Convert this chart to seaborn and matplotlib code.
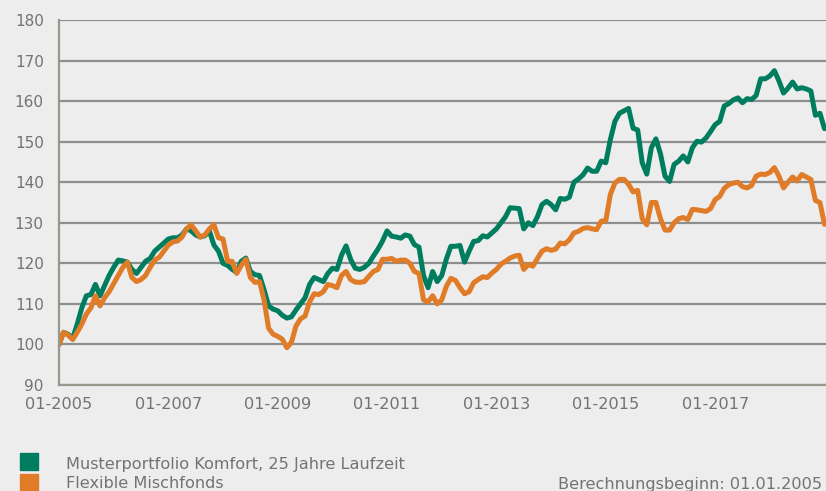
import numpy as np
import pandas as pd
import matplotlib
matplotlib.use("Agg")
import matplotlib.pyplot as plt
import seaborn as sns
from matplotlib.patches import Rectangle

# ---- data (monthly index values, 01-2005 .. 01-2019) ----
series_names = ["Musterportfolio Komfort, 25 Jahre Laufzeit", "Flexible Mischfonds"]
start_month = "2005-01"

green = [100, 103, 102.5, 101.5, 105, 109, 112, 112.3, 114.8, 112, 114.5, 117, 119, 120.8, 120.6, 120.3,
         118.5, 117.5, 119, 120.5, 121.2, 123, 124, 125, 126, 126.3, 126.3, 127, 128.5, 128, 127, 126.5,
         126.8, 128, 124.5, 123, 120, 119.5, 118.5, 117.8, 120.5, 121.3, 118, 117.2, 117, 113.5, 109.5,
         108.7, 108.3, 107.2, 106.5, 106.8, 108.5, 110, 111.5, 114.8, 116.5, 116, 115.5, 117.5, 118.8,
         118.5, 122, 124.3, 121, 118.8, 118.5, 119, 120, 121.8, 123.5, 125.5, 128, 126.7, 126.5, 126.2,
         127, 126.7, 124.6, 124, 117, 114, 118, 115.5, 117, 121, 124.2, 124.2, 124.4, 120.3, 123, 125.4,
         125.6, 126.8, 126.5, 127.5, 128.5, 130, 131.5, 133.7, 133.6, 133.5, 128.5, 130, 129.3, 131.5,
         134.5, 135.3, 134.5, 133.2, 136, 135.8, 136.3, 140, 140.8, 141.8, 143.5, 142.7, 142.7, 145.2,
         144.8, 150.5, 155, 157, 157.6, 158.2, 153.3, 152.9, 144.8, 142, 148.5, 150.7, 147, 141.5, 140.2,
         144.4, 145.2, 146.5, 145, 148.5, 150.1, 149.9, 150.9, 152.5, 154.2, 155, 158.8, 159.4, 160.3,
         160.8, 159.6, 160.6, 160.4, 161.4, 165.5, 165.5, 166.2, 167.5, 165, 162, 163.2, 164.7, 163,
         163.3, 163, 162.5, 156.5, 157, 153.2]

orange = [100, 103, 102.3, 101.2, 103, 105, 107.5, 109, 112, 109.5, 111.5, 113, 115, 117, 119, 120.3,
          116.5, 115.5, 116, 117, 119, 120.8, 121.5, 123, 124.5, 125.3, 125.5, 126.5, 128.5, 129.5, 128,
          126.5, 127, 128.5, 129.5, 126.3, 126, 120.5, 120.5, 117.5, 119.5, 121, 116.5, 115.3, 115.5, 111,
          104, 102.5, 102, 101.3, 99.2, 100.5, 104.5, 106.3, 107, 110.5, 112.5, 112.3, 113, 114.8, 114.5,
          114, 117, 118, 116, 115.4, 115.3, 115.5, 116.8, 118, 118.5, 121, 121, 121.2, 120.5, 120.8,
          120.8, 120, 118, 117.5, 111, 110.5, 112, 110, 111, 114.3, 116.3, 115.8, 114, 112.5, 113, 115.2,
          116, 116.7, 116.5, 117.6, 118.5, 119.8, 120.5, 121.3, 121.8, 122, 118.5, 119.7, 119.3, 121.2,
          123, 123.6, 123.2, 123.5, 125, 124.8, 125.8, 127.5, 127.9, 128.6, 128.8, 128.5, 128.3, 130.4,
          130.5, 137, 139.8, 140.7, 140.7, 139.5, 137.6, 138, 131, 129.5, 135, 135, 131, 128.2, 128.2,
          130, 131, 131.3, 130.8, 133.3, 133.2, 133, 132.8, 133.5, 135.7, 136.5, 138.5, 139.4, 139.8,
          140, 138.9, 138.6, 139.2, 141.5, 142, 141.9, 142.4, 143.6, 141.5, 138.6, 140, 141.3, 140.3,
          141.9, 141.3, 140.7, 135.5, 135, 129.6]

y_ticks = [90, 100, 110, 120, 130, 140, 150, 160, 170, 180]
x_tick_labels = ["01-2005", "01-2007", "01-2009", "01-2011", "01-2013", "01-2015", "01-2017", ""]
footnote = "Berechnungsbeginn: 01.01.2005"

n = min(len(green), len(orange))
green = green[:n]
orange = orange[:n]
months = np.arange(n)

df = pd.DataFrame({
    "month": np.concatenate([months, months]),
    "value": np.concatenate([green, orange]),
    "series": [series_names[0]] * n + [series_names[1]] * n,
})

GREEN = "#007D5E"
ORANGE = "#E07B27"
BG = "#EDEDED"
GRID = "#8E8E8E"
TXT = "#737373"
AX = "#9A988C"

sns.set_theme(style="white")
plt.rcParams["font.family"] = ["DejaVu Sans"]

fig = plt.figure(figsize=(8.26, 4.91), dpi=100, facecolor=BG)
ax = fig.add_axes([59 / 826, 1 - 385 / 491, 1 - 59 / 826, (385 - 20) / 491])
ax.set_facecolor(BG)

sns.lineplot(data=df, x="month", y="value", hue="series",
             palette={series_names[0]: GREEN, series_names[1]: ORANGE},
             linewidth=3.6, ax=ax, legend=False, solid_joinstyle="round", solid_capstyle="round")

ax.set_ylim(90, 180)
ax.set_xlim(0, 168.33)
ax.set_yticks(y_ticks)
ax.set_xticks(np.arange(0, 24 * len(x_tick_labels), 24))
ax.set_xticklabels(x_tick_labels)
ax.yaxis.grid(True, color=GRID, linewidth=1.6)
ax.xaxis.grid(False)
ax.set_axisbelow(True)
ax.set_xlabel("")
ax.set_ylabel("")

for s in ["top", "right"]:
    ax.spines[s].set_visible(False)
for s in ["left", "bottom"]:
    ax.spines[s].set_color(AX)
    ax.spines[s].set_linewidth(1.6)

ax.tick_params(axis="both", colors=AX, labelcolor=TXT, length=4, width=1.4, direction="out")
ax.tick_params(axis="y", pad=7, labelsize=11)
ax.tick_params(axis="x", pad=4.5, labelsize=11.6)

# legend
fig.patches.append(Rectangle((20 / 826, 1 - 470 / 491), 18 / 826, 17 / 491,
                             transform=fig.transFigure, color=GREEN, figure=fig))
fig.patches.append(Rectangle((20 / 826, 1 - 491 / 491), 18 / 826, 17 / 491,
                             transform=fig.transFigure, color=ORANGE, figure=fig))
fig.text(66 / 826, 1 - 465 / 491, series_names[0], color=TXT, fontsize=11.6, va="center", ha="left")
fig.text(66 / 826, 1 - 484 / 491, series_names[1], color=TXT, fontsize=11.6, va="center", ha="left")
fig.text(822 / 826, 1 - 484 / 491, footnote, color=TXT, fontsize=11.6, va="center", ha="right")

fig.savefig("out.png", dpi=100, facecolor=BG)
